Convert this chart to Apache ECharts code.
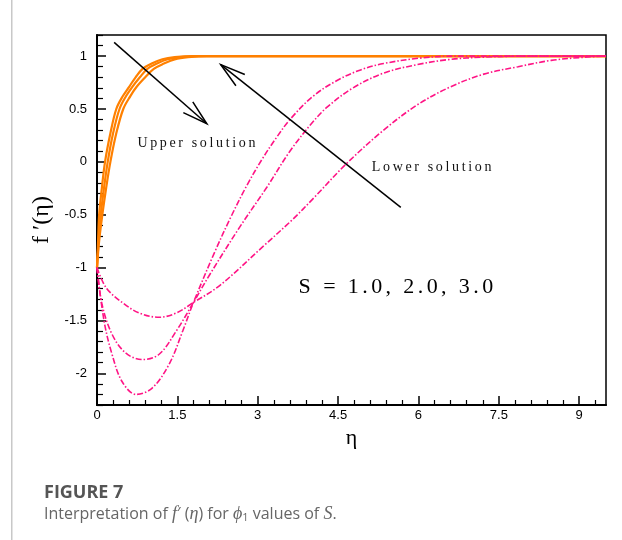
<!DOCTYPE html>
<html>
<head>
<meta charset="utf-8">
<script src="https://cdn.jsdelivr.net/npm/echarts@6/dist/echarts.min.js"></script>
<style>
  html, body { margin: 0; padding: 0; background: #fff; }
  #chart { width: 622px; height: 540px; }
</style>
</head>
<body>
<div id="chart"></div>
<script>
// Velocity profiles f'(eta): dual solutions for S = 1.0, 2.0, 3.0
const etaMajorTicks = [0, 1.5, 3, 4.5, 6, 7.5, 9];
const fMajorTicks = [-2, -1.5, -1, -0.5, 0, 0.5, 1];

// Upper (first) solution branch
const upperS1 = [[0,-1],[0.02,-0.75],[0.04,-0.5],[0.09,-0.25],[0.15,0],[0.25,0.27],[0.36,0.5],[0.48,0.62],[0.6,0.71],[0.72,0.8],[0.85,0.88],[1.02,0.93],[1.22,0.97],[1.45,0.99],[1.8,1.0],[3,1.0],[9.5,1.0]];
const upperS2 = [[0,-1],[0.03,-0.75],[0.07,-0.5],[0.13,-0.25],[0.2,0],[0.3,0.27],[0.42,0.5],[0.54,0.62],[0.66,0.71],[0.8,0.8],[0.94,0.88],[1.12,0.93],[1.32,0.97],[1.55,0.99],[1.9,1.0],[3,1.0],[9.5,1.0]];
const upperS3 = [[0,-1],[0.04,-0.75],[0.1,-0.5],[0.17,-0.25],[0.25,0],[0.36,0.27],[0.49,0.5],[0.62,0.62],[0.74,0.71],[0.9,0.8],[1.06,0.88],[1.25,0.93],[1.45,0.97],[1.7,0.99],[2.05,1.0],[3,1.0],[9.5,1.0]];

// Lower (second) solution branch
const lowerS1 = [[0,-1],[0.17,-1.19],[0.47,-1.33],[0.79,-1.43],[1.16,-1.47],[1.48,-1.43],[1.8,-1.33],[2.29,-1.17],[3.1,-0.8],[3.64,-0.55],[4.03,-0.35],[4.65,-0.02],[5.35,0.3],[5.98,0.54],[6.6,0.71],[7.22,0.83],[7.86,0.9],[8.48,0.96],[9.1,0.99],[9.5,1.0]];
const lowerS2 = [[0,-1],[0.09,-1.34],[0.28,-1.63],[0.54,-1.81],[0.85,-1.87],[1.16,-1.82],[1.48,-1.6],[1.8,-1.33],[2.1,-1.07],[2.66,-0.62],[3.17,-0.24],[3.6,0.1],[4.0,0.36],[4.3,0.52],[4.78,0.7],[5.35,0.84],[5.98,0.92],[6.6,0.97],[7.2,0.99],[8.0,1.0],[9.5,1.0]];
const lowerS3 = [[0,-1],[0.13,-1.5],[0.28,-1.82],[0.47,-2.08],[0.73,-2.2],[1.03,-2.14],[1.35,-1.91],[1.6,-1.6],[1.8,-1.33],[2.2,-0.85],[2.5,-0.52],[2.8,-0.22],[3.1,0.04],[3.35,0.23],[3.6,0.4],[4.03,0.62],[4.48,0.77],[4.92,0.87],[5.35,0.93],[6.0,0.98],[6.6,1.0],[9.5,1.0]];

// Annotation arrows in data space: [tail, head]
const upperArrow = [[0.32, 1.13], [2.05, 0.36]];
const lowerArrow = [[5.67, -0.43], [2.31, 0.92]];

function range(start, stop, step) {
  const out = [];
  for (let v = start; v <= stop + 1e-9; v += step) out.push(Math.round(v * 100) / 100);
  return out;
}
const etaMinorTicks = range(0, 9.5, 0.3).filter(v => !etaMajorTicks.includes(v));
const fMinorTicks = range(-2.3, 1.2, 0.1).filter(v => !fMajorTicks.some(m => Math.abs(m - v) < 1e-6));

// letter-spaced text via one rich token per character
const tracked = s => s.split('').map(c => '{c|' + c + '}').join('');

const ORANGE = '#ff8000';
const PINK = '#ff1485';
const tickFont = { fontFamily: 'Liberation Sans', fontSize: 13, color: '#000' };

const chart = echarts.init(document.getElementById('chart'), null, { renderer: 'canvas' });

const upperSeries = [upperS1, upperS2, upperS3].map((d, i) => ({
  name: 'Upper S' + (i + 1), type: 'line', data: d, xAxisIndex: 0, yAxisIndex: 0,
  showSymbol: false, smooth: 0.35,
  lineStyle: { color: ORANGE, width: 2.2 }, z: 3
}));
const lowerSeries = [lowerS1, lowerS2, lowerS3].map((d, i) => ({
  name: 'Lower S' + (i + 1), type: 'line', data: d, xAxisIndex: 0, yAxisIndex: 0,
  showSymbol: false, smooth: 0.35,
  lineStyle: { color: PINK, width: 1.6, type: [6, 2, 1.5, 2] }, z: 4
}));

chart.setOption({
  animation: false,
  backgroundColor: '#fff',
  grid: { left: 97, right: 16, top: 35, bottom: 135, show: true, borderColor: '#000', borderWidth: 1.5 },
  xAxis: [
    {
      type: 'value', min: 0, max: 9.5, position: 'bottom',
      name: 'η', nameLocation: 'middle', nameGap: 18,
      nameTextStyle: { fontFamily: 'Liberation Serif', fontSize: 22, color: '#000' },
      axisLine: { show: true, onZero: false, lineStyle: { color: '#000', width: 2 } },
      axisTick: { show: true, inside: true, length: 9, customValues: etaMajorTicks, lineStyle: { color: '#000', width: 1.5 } },
      axisLabel: { show: true, customValues: etaMajorTicks, margin: 4, ...tickFont },
      splitLine: { show: false }
    },
    {
      type: 'value', min: 0, max: 9.5, position: 'bottom',
      axisLine: { show: false, onZero: false },
      axisTick: { show: true, inside: true, length: 5, customValues: etaMinorTicks, lineStyle: { color: '#000', width: 1.2 } },
      axisLabel: { show: false }, splitLine: { show: false }
    }
  ],
  yAxis: [
    {
      type: 'value', min: -2.3, max: 1.2, position: 'left',
      name: "f ′(η)", nameLocation: 'middle', nameGap: 38, nameRotate: 90,
      nameTextStyle: { fontFamily: 'Liberation Serif', fontSize: 24, color: '#000' },
      axisLine: { show: true, onZero: false, lineStyle: { color: '#000', width: 2 } },
      axisTick: { show: true, inside: true, length: 9, customValues: fMajorTicks, lineStyle: { color: '#000', width: 1.5 } },
      axisLabel: { show: true, customValues: fMajorTicks, margin: 10, ...tickFont },
      splitLine: { show: false }
    },
    {
      type: 'value', min: -2.3, max: 1.2, position: 'left',
      axisLine: { show: false, onZero: false },
      axisTick: { show: true, inside: true, length: 6, customValues: fMinorTicks, lineStyle: { color: '#000', width: 1.2 } },
      axisLabel: { show: false }, splitLine: { show: false }
    }
  ],
  series: [...upperSeries, ...lowerSeries]
});

// Arrows and labels placed from data coordinates
function px(p) { return chart.convertToPixel({ xAxisIndex: 0, yAxisIndex: 0 }, p); }
function arrowShapes(a) {
  const t = px(a[0]), h = px(a[1]);
  const ang = Math.atan2(h[1] - t[1], h[0] - t[0]);
  const len = 26, spread = 16 * Math.PI / 180;
  const w1 = [h[0] - len * Math.cos(ang - spread), h[1] - len * Math.sin(ang - spread)];
  const w2 = [h[0] - len * Math.cos(ang + spread), h[1] - len * Math.sin(ang + spread)];
  const st = { stroke: '#000', lineWidth: 1.5, fill: null };
  return [
    { type: 'line', shape: { x1: t[0], y1: t[1], x2: h[0], y2: h[1] }, style: st, z: 10 },
    { type: 'polyline', shape: { points: [w1, h, w2] }, style: st, z: 10 }
  ];
}
function trackedText(pos, str, size, gap, color) {
  return {
    type: 'text', x: pos[0], y: pos[1], z: 10,
    style: {
      text: tracked(str), align: 'center', verticalAlign: 'middle',
      rich: { c: { fontFamily: 'Liberation Serif', fontSize: size, fill: color, padding: [0, gap, 0, 0] } }
    }
  };
}
const upperLabelPos = px([1.88, 0.18]);
const lowerLabelPos = px([6.27, -0.05]);
const sLabelPos = px([5.61, -1.19]);

chart.setOption({
  graphic: [
    { type: 'rect', left: 11, top: 0, shape: { width: 1.5, height: 540 }, style: { fill: '#c8c8c8' }, silent: true },
    ...arrowShapes(upperArrow),
    ...arrowShapes(lowerArrow),
    trackedText(upperLabelPos, 'Upper solution', 14, 2.65, '#111'),
    trackedText(lowerLabelPos, 'Lower solution', 14, 2.65, '#111'),
    trackedText(sLabelPos, 'S = 1.0, 2.0, 3.0', 22, 3.4, '#000'),
    { type: 'text', x: 44, y: 493, style: { text: 'FIGURE 7', fontFamily: 'Open Sans', fontWeight: 'bold', fontSize: 18, fill: '#555', verticalAlign: 'middle' } },
    {
      type: 'text', x: 44, y: 514,
      style: {
        text: 'Interpretation of {i|f}′ ({i|η}) for {i|ϕ}{sub|1} values of {i|S}.',
        fontFamily: 'Open Sans', fontSize: 16, fill: '#666', verticalAlign: 'middle',
        rich: {
          i: { fontFamily: 'Liberation Serif', fontStyle: 'italic', fontSize: 18, fill: '#666' },
          sub: { fontFamily: 'Open Sans', fontSize: 11, fill: '#666', padding: [7, 0, 0, 0] }
        }
      }
    }
  ]
});
</script>
</body>
</html>
